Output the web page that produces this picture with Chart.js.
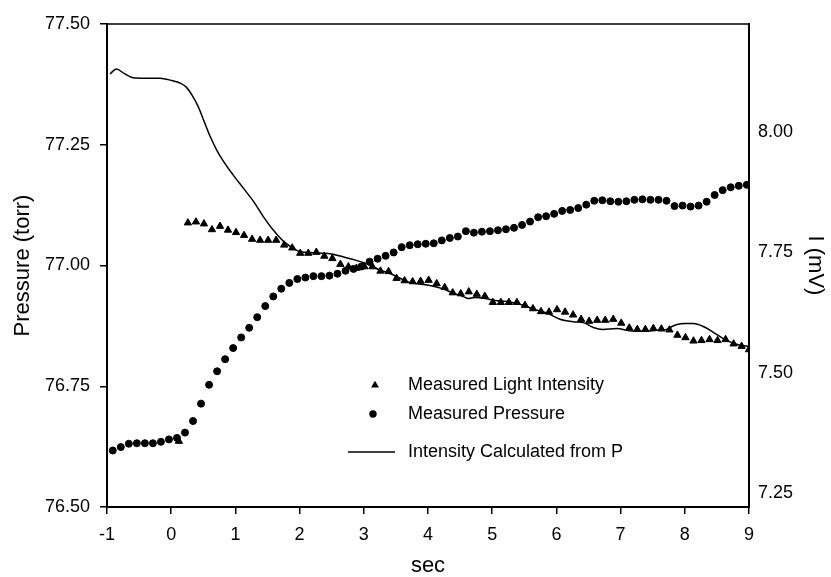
<!DOCTYPE html>
<html>
<head>
<meta charset="utf-8">
<script src="https://cdn.jsdelivr.net/npm/chart.js@4/dist/chart.umd.min.js"></script>
<style>
  html, body { margin: 0; padding: 0; background: #ffffff; }
  #c { display: block; }
</style>
</head>
<body>
<canvas id="c" width="831" height="577"></canvas>
<script>
// ---- Data ----
const pressureSec = [-0.91, -0.785, -0.66, -0.535, -0.41, -0.285, -0.16, -0.035, 0.09, 0.215,
  0.34, 0.465, 0.59, 0.715, 0.84, 0.965, 1.09, 1.215, 1.34, 1.465,
  1.59, 1.715, 1.84, 1.965, 2.09, 2.215, 2.34, 2.465, 2.59, 2.715,
  2.84, 2.965, 3.09, 3.215, 3.34, 3.465, 3.59, 3.715, 3.84, 3.965,
  4.09, 4.215, 4.34, 4.465, 4.59, 4.715, 4.84, 4.965, 5.09, 5.215,
  5.34, 5.465, 5.59, 5.715, 5.84, 5.965, 6.09, 6.215, 6.34, 6.465,
  6.59, 6.715, 6.84, 6.965, 7.09, 7.215, 7.34, 7.465, 7.59, 7.715,
  7.84, 7.965, 8.09, 8.215, 8.34, 8.465, 8.59, 8.715, 8.84, 8.965];
const pressureTorr = [76.617, 76.624, 76.631, 76.632, 76.632, 76.632, 76.635, 76.640, 76.643, 76.654,
  76.678, 76.714, 76.753, 76.781, 76.806, 76.829, 76.851, 76.871, 76.893, 76.916,
  76.936, 76.952, 76.964, 76.972, 76.975, 76.978, 76.978, 76.979, 76.983, 76.989,
  76.993, 76.998, 77.008, 77.014, 77.020, 77.027, 77.038, 77.042, 77.044, 77.045,
  77.046, 77.052, 77.057, 77.060, 77.071, 77.068, 77.070, 77.071, 77.073, 77.075,
  77.078, 77.084, 77.091, 77.100, 77.102, 77.107, 77.113, 77.115, 77.119, 77.126,
  77.134, 77.135, 77.133, 77.132, 77.133, 77.136, 77.137, 77.136, 77.136, 77.134,
  77.123, 77.124, 77.122, 77.124, 77.132, 77.146, 77.156, 77.162, 77.165, 77.167];

const intensitySec = [0.12, 0.26, 0.385, 0.51, 0.635, 0.76, 0.885, 1.01, 1.135, 1.26,
  1.385, 1.51, 1.635, 1.76, 1.885, 2.01, 2.135, 2.26, 2.385, 2.51,
  2.635, 2.76, 2.885, 3.01, 3.135, 3.26, 3.385, 3.51, 3.635, 3.76,
  3.885, 4.01, 4.135, 4.26, 4.385, 4.51, 4.635, 4.76, 4.885, 5.01,
  5.135, 5.26, 5.385, 5.51, 5.635, 5.76, 5.885, 6.01, 6.135, 6.26,
  6.385, 6.51, 6.635, 6.76, 6.885, 7.01, 7.135, 7.26, 7.385, 7.51,
  7.635, 7.76, 7.885, 8.01, 8.135, 8.26, 8.385, 8.51, 8.635, 8.76,
  8.885, 9.0];
const intensityMV = [7.358, 7.811, 7.813, 7.809, 7.797, 7.804, 7.796, 7.791, 7.785, 7.777,
  7.775, 7.775, 7.775, 7.765, 7.759, 7.748, 7.748, 7.750, 7.742, 7.737,
  7.725, 7.720, 7.717, 7.720, 7.720, 7.711, 7.710, 7.696, 7.691, 7.689,
  7.690, 7.692, 7.685, 7.677, 7.666, 7.664, 7.668, 7.663, 7.659, 7.646,
  7.646, 7.646, 7.646, 7.640, 7.633, 7.627, 7.626, 7.631, 7.626, 7.620,
  7.611, 7.607, 7.609, 7.609, 7.611, 7.603, 7.593, 7.590, 7.590, 7.592,
  7.591, 7.589, 7.578, 7.573, 7.566, 7.567, 7.569, 7.567, 7.569, 7.560,
  7.555, 7.548];

const calcSec = [-0.953, -0.852, -0.735, -0.59, -0.408, -0.174, 0.012, 0.137, 0.231, 0.324,
  0.417, 0.511, 0.604, 0.709, 0.812, 0.967, 1.123, 1.279, 1.435, 1.59,
  1.746, 1.877, 2.006, 2.213, 2.474, 2.629, 2.836, 3.045, 3.252, 3.408,
  3.564, 3.72, 3.875, 4.031, 4.238, 4.394, 4.55, 4.628, 4.732, 4.888,
  5.044, 5.277, 5.484, 5.64, 5.849, 6.056, 6.263, 6.419, 6.575, 6.726,
  6.939, 7.146, 7.354, 7.562, 7.718, 7.801, 7.879, 8.003, 8.132, 8.288,
  8.444, 8.575, 8.704, 8.86, 9.0];
const calcMV = [8.120, 8.130, 8.121, 8.112, 8.111, 8.111, 8.106, 8.101, 8.093, 8.076,
  8.053, 8.022, 7.991, 7.962, 7.939, 7.910, 7.883, 7.856, 7.824, 7.796,
  7.773, 7.760, 7.751, 7.749, 7.747, 7.742, 7.735, 7.726, 7.713, 7.706,
  7.696, 7.687, 7.684, 7.681, 7.674, 7.665, 7.658, 7.654, 7.656, 7.654,
  7.650, 7.647, 7.640, 7.632, 7.624, 7.611, 7.606, 7.604, 7.594, 7.590,
  7.592, 7.587, 7.586, 7.588, 7.590, 7.596, 7.600, 7.602, 7.602, 7.596,
  7.584, 7.573, 7.564, 7.557, 7.555];

const xTicks = [-1, 0, 1, 2, 3, 4, 5, 6, 7, 8, 9];
const pressureTicks = [76.50, 76.75, 77.00, 77.25, 77.50];
const intensityTicks = [7.25, 7.50, 7.75, 8.00];
const legendLabels = ['Measured Light Intensity', 'Measured Pressure', 'Intensity Calculated from P'];

const FONT = "'Liberation Sans', Arial, Helvetica, sans-serif";
const INK = '#000000';

const zip = (xs, ys) => xs.map((x, i) => ({ x: x, y: ys[i] }));

const framePlugin = {
  id: 'frame',
  afterDatasetsDraw(chart) {
    const { ctx, chartArea: a } = chart;
    ctx.save();
    ctx.strokeStyle = INK;
    ctx.lineWidth = 1.5;
    ctx.beginPath();
    ctx.moveTo(a.left, a.top);
    ctx.lineTo(a.right, a.top);
    ctx.stroke();
    ctx.restore();
  }
};

const legendPlugin = {
  id: 'insideLegend',
  afterDatasetsDraw(chart) {
    const ctx = chart.ctx;
    const a = chart.chartArea;
    const symX = a.left + 268;
    const textX = a.left + 301;
    const rows = [a.top + 361, a.top + 390, a.top + 428];
    ctx.save();
    ctx.fillStyle = INK;
    ctx.strokeStyle = INK;
    // triangle
    const r = 4.2;
    ctx.beginPath();
    ctx.moveTo(symX, rows[0] - r);
    ctx.lineTo(symX + r * 0.95, rows[0] + r * 0.6);
    ctx.lineTo(symX - r * 0.95, rows[0] + r * 0.6);
    ctx.closePath();
    ctx.fill();
    // circle
    ctx.beginPath();
    ctx.arc(symX - 2, rows[1], 3.7, 0, Math.PI * 2);
    ctx.fill();
    // line
    ctx.lineWidth = 1.5;
    ctx.beginPath();
    ctx.moveTo(a.left + 241, rows[2]);
    ctx.lineTo(a.left + 288, rows[2]);
    ctx.stroke();
    ctx.font = '18px ' + FONT;
    ctx.textBaseline = 'middle';
    ctx.textAlign = 'left';
    legendLabels.forEach((t, i) => ctx.fillText(t, textX, rows[i]));
    ctx.restore();
  }
};

new Chart(document.getElementById('c'), {
  type: 'scatter',
  data: {
    datasets: [
      {
        label: legendLabels[0],
        data: zip(intensitySec, intensityMV),
        yAxisID: 'yI',
        pointStyle: 'triangle',
        pointRadius: 4.2,
        pointBorderWidth: 1,
        backgroundColor: INK,
        borderColor: INK,
        showLine: false
      },
      {
        label: legendLabels[1],
        data: zip(pressureSec, pressureTorr),
        yAxisID: 'yP',
        pointStyle: 'circle',
        pointRadius: 3.5,
        pointBorderWidth: 1,
        backgroundColor: INK,
        borderColor: INK,
        showLine: false
      },
      {
        label: legendLabels[2],
        data: zip(calcSec, calcMV),
        yAxisID: 'yI',
        showLine: true,
        pointRadius: 0,
        borderColor: INK,
        borderWidth: 1.5,
        cubicInterpolationMode: 'monotone',
        fill: false
      }
    ]
  },
  options: {
    responsive: false,
    animation: false,
    events: [],
    layout: { padding: { top: 24, left: 0, right: 0, bottom: 0 } },
    plugins: {
      legend: { display: false },
      tooltip: { enabled: false },
      title: { display: false }
    },
    scales: {
      x: {
        type: 'linear',
        position: 'bottom',
        min: -1,
        max: 9,
        afterBuildTicks: (s) => { s.ticks = xTicks.map(v => ({ value: v })); },
        afterFit: (s) => { s.height = 70; },
        grid: { drawOnChartArea: false, drawTicks: true, tickLength: 7, color: INK, lineWidth: 1.5 },
        border: { display: true, color: INK, width: 2 },
        ticks: {
          color: INK,
          font: { family: FONT, size: 18 },
          padding: 10,
          maxRotation: 0,
          callback: (v) => String(v)
        },
        title: {
          display: true,
          text: 'sec',
          color: INK,
          font: { family: FONT, size: 22, lineHeight: 1.0 },
          padding: { top: 0, bottom: 0 }
        }
      },
      yP: {
        type: 'linear',
        position: 'left',
        min: 76.5,
        max: 77.5,
        afterBuildTicks: (s) => { s.ticks = pressureTicks.map(v => ({ value: v })); },
        afterFit: (s) => { s.width = 107; },
        grid: { drawOnChartArea: false, drawTicks: true, tickLength: 7, color: INK, lineWidth: 1.5 },
        border: { display: true, color: INK, width: 2 },
        ticks: {
          color: INK,
          font: { family: FONT, size: 18 },
          padding: 10,
          callback: (v) => Number(v).toFixed(2)
        },
        title: {
          display: true,
          text: 'Pressure (torr)',
          color: INK,
          font: { family: FONT, size: 22 },
          padding: { top: 10, bottom: 0 }
        }
      },
      yI: {
        type: 'linear',
        position: 'right',
        min: 7.2216,
        max: 8.2234,
        afterBuildTicks: (s) => { s.ticks = intensityTicks.map(v => ({ value: v })); },
        afterFit: (s) => { s.width = 82; },
        grid: { drawOnChartArea: false, drawTicks: false },
        border: { display: true, color: INK, width: 2 },
        ticks: {
          color: INK,
          font: { family: FONT, size: 18 },
          padding: 9,
          callback: (v) => Number(v).toFixed(2)
        },
        title: {
          display: true,
          text: 'I (mV)',
          color: INK,
          font: { family: FONT, size: 22 },
          padding: { top: 3, bottom: 0 }
        }
      }
    }
  },
  plugins: [framePlugin, legendPlugin]
});
</script>
</body>
</html>
